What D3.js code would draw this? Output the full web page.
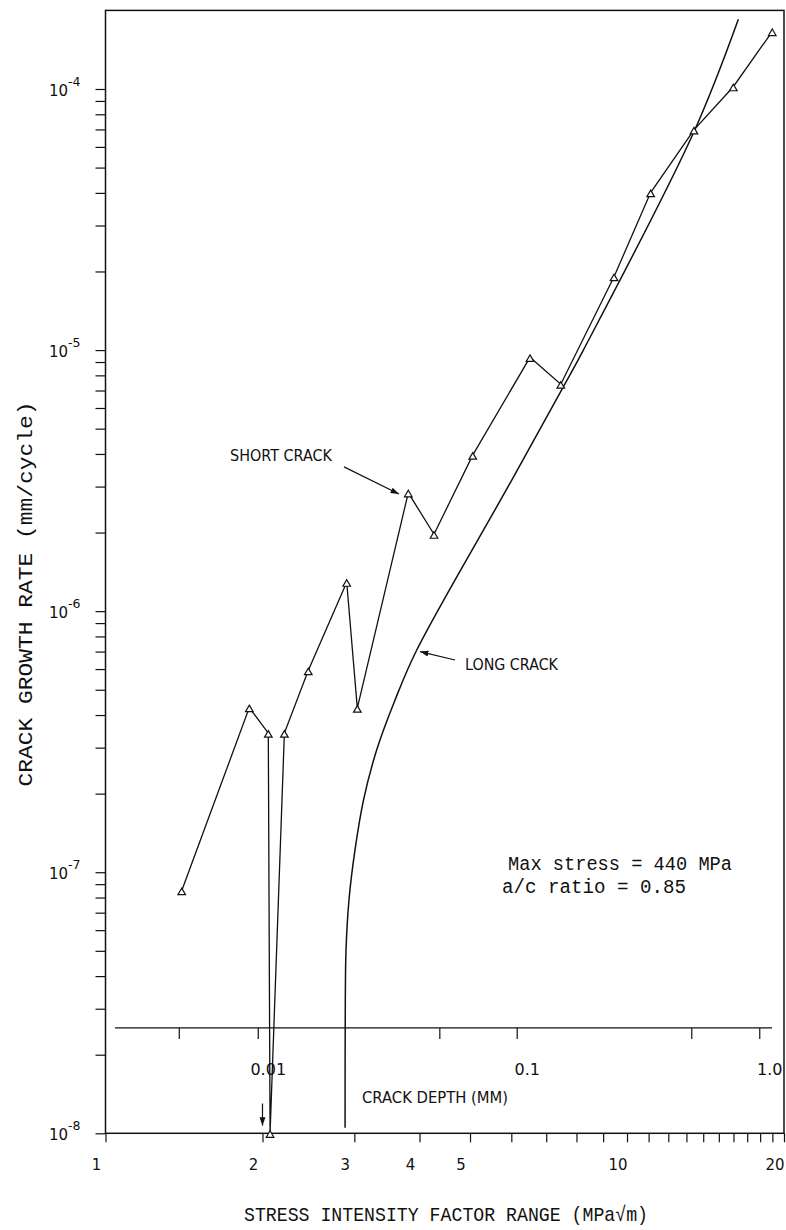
<!DOCTYPE html>
<html><head><meta charset="utf-8">
<script src="https://cdn.jsdelivr.net/npm/d3@7"></script>
<style>
body{margin:0;background:#fff;}
svg{display:block;}
</style></head><body>
<svg id="chart" width="786" height="1230"></svg>
<script>
// ---------- data ----------
const shortDeltaK = [1.400, 1.887, 2.052, 2.068, 2.203, 2.448, 2.901, 3.040, 3.807, 4.265, 5.060, 6.516, 7.464, 9.443, 11.10, 13.44, 15.99, 18.99];
const shortRate   = [8.50e-8, 4.27e-7, 3.41e-7, 1.0e-8, 3.41e-7, 5.92e-7, 1.29e-6, 4.25e-7, 2.84e-6, 1.97e-6, 3.96e-6, 9.38e-6, 7.40e-6, 1.91e-5, 4.01e-5, 6.97e-5, 1.02e-4, 1.66e-4];
const longDeltaK  = [2.880, 2.883, 2.892, 2.930, 3.009, 3.124, 3.311, 3.591, 3.952, 5.966, 7.604, 8.247, 13.44, 16.35];
const longRate    = [1.05e-8, 3.24e-8, 5.04e-8, 7.83e-8, 1.217e-7, 1.89e-7, 2.94e-7, 4.57e-7, 7.10e-7, 3.09e-6, 7.42e-6, 1.0e-5, 6.86e-5, 1.85e-4];

const xTickValues = [1,2,3,4,5,6,7,8,9,10,11,12,13,14,15,16,17,18,19,20];
const xTickLabels = [1,2,3,4,5,10,20];
const yMajorValues = [1e-8,1e-7,1e-6,1e-5,1e-4];
const yMajorExponents = ["-8","-7","-6","-5","-4"];

const depthTicks = [0.005, 0.01, 0.05, 0.1, 0.5, 1.0];
const depthTickDeltaK = [1.385, 1.963, 4.376, 6.158, 13.31, 17.97];
const depthLabelValues = [0.01, 0.1, 1.0];
const depthLabels = ["0.01", "0.1", "1.0"];
const depthAxisExtent = [1.043, 18.97];
const depthAxisRate = 2.533e-8;

const xTitle = "STRESS INTENSITY FACTOR RANGE (MPa\u221Am)";
const yTitle = "CRACK GROWTH RATE (mm/cycle)";
const depthTitle = "CRACK DEPTH (MM)";
const conditionLines = ["Max stress = 440 MPa", "a/c ratio = 0.85"];
const conditionAt = [[5.913, 1.02e-7], [5.76, 8.33e-8]];
const shortLabelAt = [1.733, 3.77e-6];
const shortArrow = [[2.866, 3.57e-6], [3.654, 2.81e-6]];
const longLabelAt = [4.89, 5.95e-7];
const longArrow = [[4.68, 6.50e-7], [4.01, 7.0e-7]];
const thresholdArrow = [[2.0, 1.3e-8], [2.0, 1.07e-8]];

// ---------- scales ----------
const x = d3.scaleLog().domain([1, 20]).range([105.5, 784]);
const y = d3.scaleLog().domain([1e-8, 2e-4]).range([1133.3, 10.4]);

const svg = d3.select("#chart");
const ink = "#111";
const mono = "'Liberation Mono','Courier New',monospace";
const sans = "'DejaVu Sans','Liberation Sans',sans-serif";

const defs = svg.append("defs");
defs.append("marker").attr("id","ah").attr("viewBox","0 0 10 10")
  .attr("refX",10).attr("refY",5).attr("markerWidth",7).attr("markerHeight",7)
  .attr("orient","auto")
  .append("path").attr("d","M0,1.5 L10,5 L0,8.5 Z").attr("fill",ink);

// frame
const [x0,x1] = x.range(); const [yb,yt] = y.range();
svg.append("rect").attr("x",x0).attr("y",yt).attr("width",x1-x0).attr("height",yb-yt)
  .attr("fill","none").attr("stroke",ink).attr("stroke-width",1.5);

// bottom axis ticks
const xAxis = svg.append("g").attr("transform",`translate(0,${yb})`)
  .call(d3.axisBottom(x).tickValues(xTickValues).tickSize(9).tickFormat(""));
xAxis.select(".domain").remove();
xAxis.selectAll("line").attr("stroke",ink).attr("stroke-width",1.2);

svg.append("g").selectAll("text").data(xTickLabels).join("text")
  .attr("x", d => x(d) - 9).attr("y", yb + 37)
  .attr("text-anchor","middle").attr("font-family",sans).attr("font-size",16)
  .attr("textLength", d => String(d).length * 9.5).attr("lengthAdjust","spacingAndGlyphs")
  .attr("fill",ink).text(d => d);

// left axis ticks
const yTicks = y.ticks().filter(v => v <= 1.0001e-4);
const yAxis = svg.append("g").attr("transform",`translate(${x0},0)`)
  .call(d3.axisLeft(y).tickValues(yTicks).tickSize(10).tickFormat(""));
yAxis.select(".domain").remove();
yAxis.selectAll("line").attr("stroke",ink).attr("stroke-width",1.2);

const yl = svg.append("g").selectAll("text").data(yMajorValues).join("text")
  .attr("x",49).attr("y",d => y(d)+7)
  .attr("font-family",sans).attr("font-size",15).attr("fill",ink);
yl.append("tspan").text("10");
yl.append("tspan").attr("dy",-10).attr("font-size",12.5).text((d,i) => yMajorExponents[i]);

// crack depth axis
const dy = y(depthAxisRate);
svg.append("line").attr("x1",x(depthAxisExtent[0])).attr("x2",x(depthAxisExtent[1]))
  .attr("y1",dy).attr("y2",dy).attr("stroke",ink).attr("stroke-width",1.3);
svg.append("g").selectAll("line").data(depthTickDeltaK).join("line")
  .attr("x1",d=>x(d)).attr("x2",d=>x(d)).attr("y1",dy).attr("y2",dy+11)
  .attr("stroke",ink).attr("stroke-width",1.2);
svg.append("g").selectAll("text").data(depthLabelValues).join("text")
  .attr("x", d => x(depthTickDeltaK[depthTicks.indexOf(d)]) + 10).attr("y", dy + 47)
  .attr("text-anchor","middle").attr("font-family",sans).attr("font-size",16)
  .attr("fill",ink).text((d,i) => depthLabels[i]);
svg.append("text").attr("x", x(3.104)).attr("y", dy + 75)
  .attr("font-family",sans).attr("font-size",16).attr("fill",ink)
  .attr("textLength",146).attr("lengthAdjust","spacingAndGlyphs").text(depthTitle);

// threshold arrow
svg.append("line").attr("x1",x(thresholdArrow[0][0])).attr("x2",x(thresholdArrow[1][0]))
  .attr("y1",y(thresholdArrow[0][1])).attr("y2",y(thresholdArrow[1][1]))
  .attr("stroke",ink).attr("stroke-width",1.2).attr("marker-end","url(#ah)");

// long crack curve
svg.append("path").datum(d3.zip(longDeltaK, longRate))
  .attr("d", d3.line().x(d => x(d[0])).y(d => y(d[1])).curve(d3.curveCatmullRom.alpha(0.5)))
  .attr("fill","none").attr("stroke",ink).attr("stroke-width",1.5);

// short crack
svg.append("path").datum(d3.zip(shortDeltaK, shortRate))
  .attr("d", d3.line().x(d => x(d[0])).y(d => y(d[1])))
  .attr("fill","none").attr("stroke",ink).attr("stroke-width",1.3);
svg.append("g").selectAll("path").data(d3.zip(shortDeltaK, shortRate)).join("path")
  .attr("transform", d => `translate(${x(d[0])},${y(d[1])})`)
  .attr("d","M0,-2.5L3.8,4L-3.8,4Z")
  .attr("fill","#fff").attr("stroke",ink).attr("stroke-width",1.2);

// annotations
svg.append("text").attr("x",x(shortLabelAt[0])).attr("y",y(shortLabelAt[1]))
  .attr("font-family",sans).attr("font-size",16).attr("fill",ink)
  .attr("textLength",102).attr("lengthAdjust","spacingAndGlyphs").text("SHORT CRACK");
svg.append("line").attr("x1",x(shortArrow[0][0])).attr("y1",y(shortArrow[0][1]))
  .attr("x2",x(shortArrow[1][0])).attr("y2",y(shortArrow[1][1]))
  .attr("stroke",ink).attr("stroke-width",1.2).attr("marker-end","url(#ah)");
svg.append("text").attr("x",x(longLabelAt[0])).attr("y",y(longLabelAt[1]))
  .attr("font-family",sans).attr("font-size",16.5).attr("fill",ink)
  .attr("textLength",93).attr("lengthAdjust","spacingAndGlyphs").text("LONG CRACK");
svg.append("line").attr("x1",x(longArrow[0][0])).attr("y1",y(longArrow[0][1]))
  .attr("x2",x(longArrow[1][0])).attr("y2",y(longArrow[1][1]))
  .attr("stroke",ink).attr("stroke-width",1.2).attr("marker-end","url(#ah)");

svg.append("g").selectAll("text").data(conditionLines).join("text")
  .attr("x",(d,i)=>x(conditionAt[i][0])).attr("y",(d,i)=>y(conditionAt[i][1]))
  .attr("font-family",mono).attr("font-size",20).attr("fill",ink)
  .attr("textLength",(d,i)=> i===0 ? 224 : 184).attr("lengthAdjust","spacingAndGlyphs")
  .attr("xml:space","preserve").text(d=>d);

// axis titles
svg.append("text").attr("x",446).attr("y",1221).attr("text-anchor","middle")
  .attr("font-family",mono).attr("font-size",21).attr("fill",ink)
  .attr("textLength",404).attr("lengthAdjust","spacingAndGlyphs").text(xTitle);
svg.append("text").attr("transform","translate(31.5,594) rotate(-90)")
  .attr("text-anchor","middle").attr("font-family",mono).attr("font-size",20).attr("fill",ink)
  .attr("textLength",385).attr("lengthAdjust","spacingAndGlyphs").text(yTitle);
</script>
</body></html>
